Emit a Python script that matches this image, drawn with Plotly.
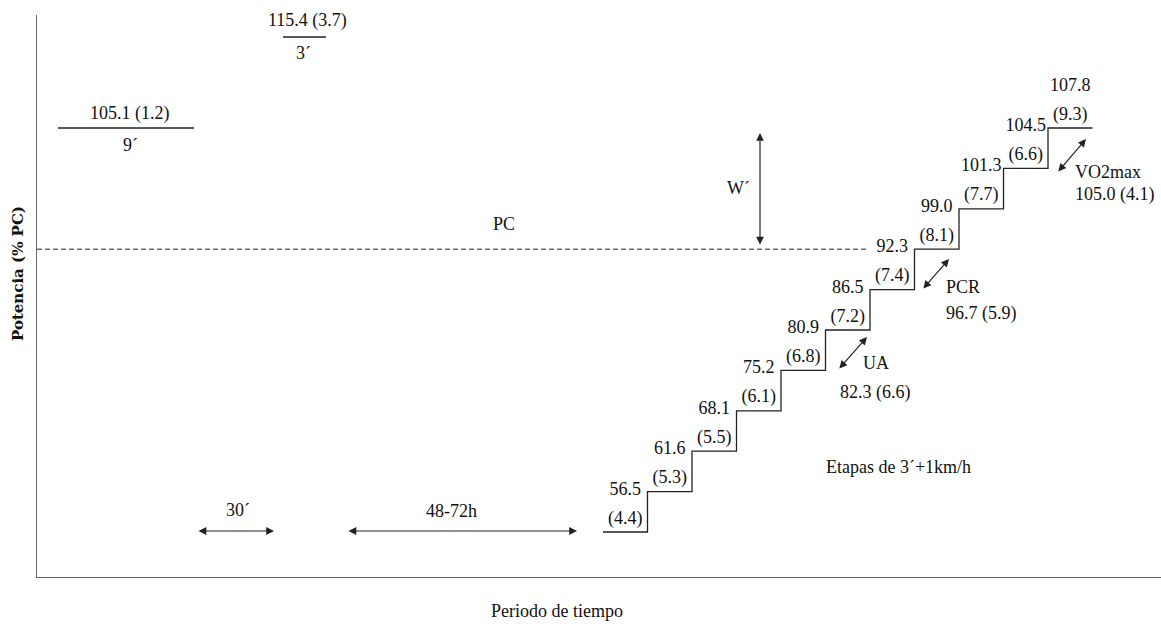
import plotly.graph_objects as go

# ---------------- data ----------------
stage_values = [56.5, 61.6, 68.1, 75.2, 80.9, 86.5, 92.3, 99.0, 101.3, 104.5, 107.8]
stage_sds = [4.4, 5.3, 5.5, 6.1, 6.8, 7.2, 7.4, 8.1, 7.7, 6.6, 9.3]

threshold_names = ["UA", "PCR", "VO2max"]
threshold_values = [82.3, 96.7, 105.0]
threshold_sds = [6.6, 5.9, 4.1]

test_durations = ["9´", "3´"]
test_values = [105.1, 115.4]
test_sds = [1.2, 3.7]

interval_labels = ["30´", "48-72h"]

# ---------------- style / layout ----------------
W, H = 1161, 624
ML, MT, MB = 37, 15, 47
X_AX, Y_AX = ML, H - MB          # axis origin in pixels
PW, PH = W - ML, H - MB - MT     # plot area size
FONT = "Liberation Serif"
TXT = "#111111"
LINE = "#222222"


def px(xp, yp):
    """pixel position -> plot coordinates"""
    return xp - X_AX, Y_AX - yp


STAIR_X0, STAIR_Y0 = px(603, 532)
STEP_W, STEP_H = 44.5, 40.4
VAL_OFF, SD_OFF = 42, 13

fig = go.Figure()

# staircase built from stage index
n = len(stage_values)
sx = [STAIR_X0 + i * STEP_W for i in range(n)] + [STAIR_X0 + n * STEP_W]
sy = [STAIR_Y0 + i * STEP_H for i in range(n)] + [STAIR_Y0 + (n - 1) * STEP_H]
fig.add_trace(go.Scatter(x=sx, y=sy, mode="lines", line=dict(shape="hv", color=LINE, width=1.3),
                         hoverinfo="skip", showlegend=False))

cx = [STAIR_X0 + (i + 0.5) * STEP_W for i in range(n)]
lv = [STAIR_Y0 + i * STEP_H for i in range(n)]
fig.add_trace(go.Scatter(x=cx, y=[v + VAL_OFF for v in lv], mode="text",
                         text=[f"{v:.1f}" for v in stage_values],
                         textfont=dict(family=FONT, size=18, color=TXT),
                         hoverinfo="skip", showlegend=False, cliponaxis=False))
fig.add_trace(go.Scatter(x=cx, y=[v + SD_OFF for v in lv], mode="text",
                         text=[f"({s:.1f})" for s in stage_sds],
                         textfont=dict(family=FONT, size=18, color=TXT),
                         hoverinfo="skip", showlegend=False, cliponaxis=False))

# PC dashed line (at level of stage 8, ending at stage 7's left edge)
pc_y = STAIR_Y0 + 7 * STEP_H
pc_end = STAIR_X0 + 6 * STEP_W - 2
fig.add_trace(go.Scatter(x=[0, pc_end], y=[pc_y, pc_y], mode="lines",
                         line=dict(color=LINE, width=1, dash="5px,3px"),
                         hoverinfo="skip", showlegend=False))

ann = []


def text(xp, yp, t, size=18, family=FONT, **kw):
    x, y = px(xp, yp)
    d = dict(x=x / PW, y=y / PH, xref="paper", yref="paper", text=t, showarrow=False,
             font=dict(family=family, size=size, color=TXT), xanchor="center", yanchor="middle")
    d.update(kw)
    ann.append(d)


def arrow(x1p, y1p, x2p, y2p):
    x1, y1 = px(x1p, y1p)
    x2, y2 = px(x2p, y2p)
    ann.append(dict(x=x2, y=y2, ax=x1, ay=y1, xref="x", yref="y", axref="x", ayref="y",
                    text="", showarrow=True, arrowhead=2, startarrowhead=2, arrowside="end+start",
                    arrowsize=1.3, startarrowsize=1.3, arrowwidth=1.2, arrowcolor=LINE,
                    standoff=0, startstandoff=0))


def hline(x1p, x2p, yp):
    x1, y = px(x1p, yp)
    x2, _ = px(x2p, yp)
    fig.add_trace(go.Scatter(x=[x1, x2], y=[y, y], mode="lines", line=dict(color=LINE, width=1.3),
                             hoverinfo="skip", showlegend=False))


# PC and W'
text(504, 224, "PC")
arrow(760, 246, 760, 133)
text(738, 188, "W´")

# tests (top-left)
test_pos = [((58, 194, 128), (130, 113), (130, 145)),
            ((283, 326, 37), (307, 20), (303, 53))]
for (l, v, s, d) in zip(test_pos, test_values, test_sds, test_durations):
    (x1, x2, yl), (tx, ty), (dx, dy) = l
    hline(x1, x2, yl)
    text(tx, ty, f"{v:.1f} ({s:.1f})")
    text(dx, dy, d)

# interval arrows
interval_pos = [((197, 274, 531), (238, 510)), ((347, 577, 531), (451, 511))]
for (seg, lab), t in zip(interval_pos, interval_labels):
    arrow(seg[0], seg[2], seg[1], seg[2])
    text(lab[0], lab[1], t)

# thresholds
thr_pos = [((838, 370, 867, 337), (876, 363), (875, 393)),
           ((922, 290, 949, 259), (963, 287), (981, 313)),
           ((1057, 173, 1086, 139), (1108, 172), (1115, 195))]
for (a, n_xy, v_xy), nm, v, s in zip(thr_pos, threshold_names, threshold_values, threshold_sds):
    arrow(*a)
    text(n_xy[0], n_xy[1], nm)
    text(v_xy[0], v_xy[1], f"{v:.1f} ({s:.1f})")

text(898, 467, "Etapas de 3´+1km/h")

# axis titles
text(557, 611, "Periodo de tiempo")
text(18, 274, "<b>Potencia (% PC)</b>", size=15, family="DejaVu Serif", textangle=-90)

fig.update_layout(
    width=W, height=H,
    margin=dict(l=ML, r=0, t=MT, b=MB, pad=0),
    paper_bgcolor="white", plot_bgcolor="white",
    annotations=ann,
    showlegend=False,
    xaxis=dict(range=[0, PW], showgrid=False, zeroline=False, showticklabels=False, ticks="",
               showline=True, linecolor="#666666", linewidth=1.2, fixedrange=True),
    yaxis=dict(range=[0, PH], showgrid=False, zeroline=False, showticklabels=False, ticks="",
               showline=True, linecolor="#666666", linewidth=1.2, fixedrange=True),
)

fig.write_html("out.html", config={"displayModeBar": False},
               post_script="document.body.style.margin='0';document.body.style.overflow='hidden';")
